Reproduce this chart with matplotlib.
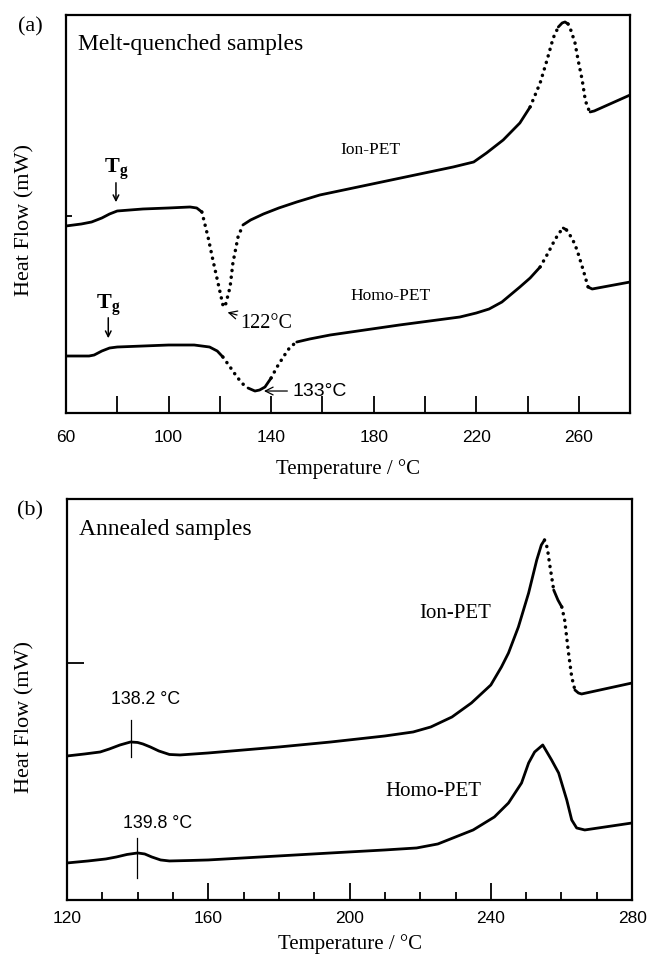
import matplotlib.pyplot as plt

# panel (a): melt-quenched, heat flow in arbitrary units
temp_a_ion = [60, 66, 70, 74, 77, 80, 90, 100, 108.4, 111, 113, 115.4, 117.3, 119.3, 121.2,
              122, 124, 125.1, 127.1, 129, 132, 137, 143, 150, 159, 185, 211, 219, 224,
              230.5, 237, 241, 244.9, 247.6, 250, 252, 253.5, 254.6, 255.8, 257, 258.5,
              259.7, 261.3, 262.5, 263.5, 264.4, 266, 280]
flow_a_ion = [187, 189, 191, 195, 199, 202, 204, 205, 206, 205, 201, 176, 153, 130, 108,
              106, 126, 150, 176, 188, 193, 199, 205, 211, 218, 232, 246, 251, 260,
              273, 290, 306, 330, 353, 375, 386, 390, 391, 389, 382, 370,
              353, 333, 313, 305, 301, 302, 318]

temp_a_homo = [60, 69, 71, 74, 77, 80, 100, 110, 116, 119, 121.2, 124, 126.7, 129, 131, 133.7,
               135.5, 137.6, 140, 142.3, 145, 147.4, 150, 155, 163, 190, 213.6, 220, 225,
               230, 237, 241, 244.9, 248, 250, 252, 253.9, 255.2, 257.5, 259.3, 261.7, 263.6,
               265.2, 280]
flow_a_homo = [57, 57, 58, 62, 65, 66, 68, 68, 66, 62, 56, 46, 36, 29, 25, 22,
               23, 26, 35, 46, 57, 66, 71, 74, 78, 88, 96, 100, 104,
               111, 126, 135, 146, 160, 170, 179, 185, 183, 174, 163, 143, 126,
               124, 131]

# panel (b): annealed
temp_b_ion = [120, 125, 129.4, 132, 135, 138, 140, 141.5, 143.6, 146, 149, 152, 160, 180,
              194.7, 210, 218, 223, 229, 234.5, 240, 243, 245, 247.8, 250.7, 253, 254.3,
              255.2, 256, 256.6, 257.8, 259, 260.1, 260.9, 262, 262.9, 263.8, 264.8, 265.7,
              280]
flow_b_ion = [144, 146, 148, 151, 155, 158, 157.5, 156, 153, 149, 145.5, 145, 147, 153,
              158, 164, 168, 173, 183, 197, 215, 233, 247, 273, 307, 340, 355,
              360, 352, 337, 310, 300, 293, 280, 247, 223, 210, 207, 206,
              217]

temp_b_homo = [120, 126, 131, 134, 137, 140, 142, 144, 146.5, 149, 155, 160, 194.7, 210, 219,
               225, 230, 235, 241, 245, 248.7, 250.7, 252.4, 254.7, 257.2, 259.2, 261.5,
               262.9, 264.3, 266.6, 280]
flow_b_homo = [37, 39, 41, 43, 45.5, 47, 46, 43, 40, 39, 39.5, 40, 47, 50, 52,
               56, 63, 70, 83, 97, 117, 137, 148, 155, 140, 127, 100,
               80, 72, 70, 77]

# temperature ranges where the recorder trace shows up as dots (steep parts)
dots_a_ion = [(113, 129), (241, 252), (256, 264.4)]
dots_a_homo = [(121, 131), (139, 151), (245, 253.9), (255.2, 263.6)]
dots_b_ion = [(255.2, 257.8), (260.1, 263.8)]
dots_b_homo = []

ticks_a = [60, 100, 140, 180, 220, 260]
minor_a = [80, 120, 160, 200, 240]
ticks_b = [120, 160, 200, 240, 280]
minor_b = [130, 140, 150, 170, 180, 190, 210, 220, 230, 250, 260, 270]

serif = 'Liberation Serif'
sans = 'Liberation Sans'
plt.rcParams['font.family'] = sans
plt.rcParams['mathtext.fontset'] = 'custom'
plt.rcParams['mathtext.rm'] = 'Liberation Serif'
plt.rcParams['mathtext.bf'] = 'Liberation Serif:bold'


def trace(ax, t, f, dotted):
    # split the curve into runs, solid or dotted
    def is_dot(i):
        mid = 0.5 * (t[i] + t[i + 1])
        return any(lo <= mid <= hi for lo, hi in dotted)
    start = 0
    for i in range(1, len(t)):
        if i == len(t) - 1 or is_dot(i) != is_dot(start):
            seg_t = t[start:i + 1]
            seg_f = f[start:i + 1]
            if is_dot(start):
                ax.plot(seg_t, seg_f, color='black', lw=2.5, linestyle=(0, (0.05, 1.9)),
                        dash_capstyle='round')
            else:
                ax.plot(seg_t, seg_f, color='black', lw=2.0, solid_capstyle='round')
            start = i


fig = plt.figure(figsize=(6.53, 9.65), dpi=100)
ax_a = fig.add_axes([0.101, 0.572, 0.864, 0.4125])
ax_b = fig.add_axes([0.1026, 0.0674, 0.8654, 0.4155])

for ax in (ax_a, ax_b):
    for s in ax.spines.values():
        s.set_linewidth(1.6)
    ax.tick_params(axis='both', which='both', direction='in', top=False, right=False,
                   width=1.3, labelsize=12.5)

# ---- (a)
trace(ax_a, temp_a_ion, flow_a_ion, dots_a_ion)
trace(ax_a, temp_a_homo, flow_a_homo, dots_a_homo)
ax_a.set_xlim(60, 280)
ax_a.set_ylim(0, 398)
ax_a.set_xticks(ticks_a)
ax_a.set_xticks(minor_a, minor=True)
ax_a.tick_params(axis='x', which='both', length=12, pad=12.5)
ax_a.set_yticks([197])
ax_a.set_yticklabels([])
ax_a.tick_params(axis='y', length=4)
ax_a.set_xlabel('Temperature / °C', family=serif, fontsize=15, labelpad=10)
ax_a.set_ylabel('Heat Flow (mW)', family=serif, fontsize=16, va='center')
ax_a.yaxis.set_label_coords(-0.073, 0.485)
ax_a.text(-0.085, 0.97, '(a)', transform=ax_a.transAxes, family=serif, fontsize=16, va='center')
ax_a.text(0.022, 0.925, 'Melt-quenched samples', transform=ax_a.transAxes, family=serif,
          fontsize=17, va='center')
ax_a.text(167, 263, 'Ion-PET', family=serif, fontsize=12.5, va='center')
ax_a.text(171, 117, 'Homo-PET', family=serif, fontsize=12.5, va='center')
ax_a.annotate('', xy=(79.5, 208), xytext=(79.5, 233),
              arrowprops=dict(arrowstyle='->', lw=1.1, color='black'))
ax_a.text(79.5, 244, r'$\mathbf{T_g}$', fontsize=16, ha='center', va='center')
ax_a.annotate('', xy=(76.5, 72), xytext=(76.5, 98),
              arrowprops=dict(arrowstyle='->', lw=1.1, color='black'))
ax_a.text(76.5, 108, r'$\mathbf{T_g}$', fontsize=16, ha='center', va='center')
ax_a.annotate('122°C', xy=(122.5, 101), xytext=(127.8, 90), family=serif, fontsize=14.5,
              va='center', arrowprops=dict(arrowstyle='->', lw=0.9, color='black',
                                           shrinkA=0, shrinkB=1))
ax_a.annotate('133°C', xy=(137.2, 22), xytext=(148.5, 22), family=sans, fontsize=14,
              va='center', arrowprops=dict(arrowstyle='->', lw=0.9, color='black',
                                           shrinkA=2, shrinkB=0))

# ---- (b)
trace(ax_b, temp_b_ion, flow_b_ion, dots_b_ion)
trace(ax_b, temp_b_homo, flow_b_homo, dots_b_homo)
ax_b.set_xlim(120, 280)
ax_b.set_ylim(0, 401)
ax_b.set_xticks(ticks_b)
ax_b.set_xticks(minor_b, minor=True)
ax_b.tick_params(axis='x', which='major', length=12, pad=8)
ax_b.tick_params(axis='x', which='minor', length=6)
ax_b.set_yticks([237])
ax_b.set_yticklabels([])
ax_b.tick_params(axis='y', length=12)
ax_b.set_xlabel('Temperature / °C', family=serif, fontsize=15, labelpad=6)
ax_b.set_ylabel('Heat Flow (mW)', family=serif, fontsize=16, va='center')
ax_b.yaxis.set_label_coords(-0.075, 0.456)
ax_b.text(-0.088, 0.97, '(b)', transform=ax_b.transAxes, family=serif, fontsize=16, va='center')
ax_b.text(0.022, 0.925, 'Annealed samples', transform=ax_b.transAxes, family=serif,
          fontsize=17, va='center')
ax_b.text(230, 286, 'Ion-PET', family=serif, fontsize=15, ha='center', va='center')
ax_b.text(223.7, 108, 'Homo-PET', family=serif, fontsize=15, ha='center', va='center')
ax_b.plot([138.2, 138.2], [143, 180], color='black', lw=0.9)
ax_b.text(142.2, 200, '138.2 °C', family=sans, fontsize=12.8, ha='center', va='center')
ax_b.plot([139.8, 139.8], [22, 62], color='black', lw=0.9)
ax_b.text(145.7, 76, '139.8 °C', family=sans, fontsize=12.8, ha='center', va='center')

fig.savefig('out.png', dpi=100)
